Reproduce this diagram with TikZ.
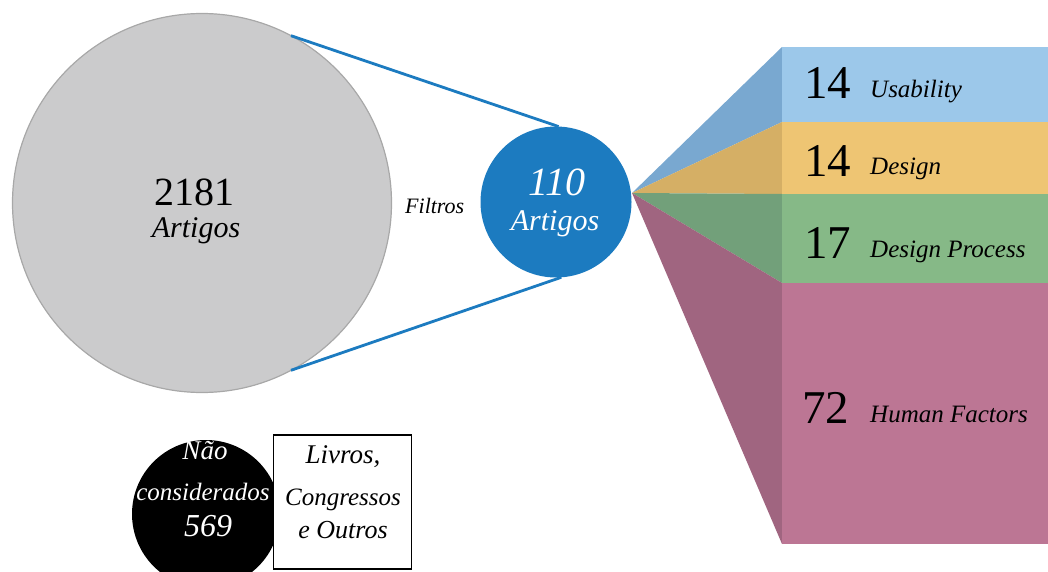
\documentclass[tikz,border=0pt]{standalone}
\usepackage{fontspec}
\setmainfont{Liberation Serif}
\newcommand\fsz[1]{\fontsize{#1}{#1}\selectfont}
\definecolor{greyfill}{HTML}{CBCBCC}
\definecolor{greyline}{HTML}{A8A8A8}
\definecolor{bluec}{HTML}{1C7BC0}
\definecolor{usaL}{HTML}{9CC8EA}
\definecolor{usaD}{HTML}{79A8D0}
\definecolor{desL}{HTML}{EEC573}
\definecolor{desD}{HTML}{D5AF65}
\definecolor{proL}{HTML}{86B987}
\definecolor{proD}{HTML}{72A07A}
\definecolor{humL}{HTML}{BC7694}
\definecolor{humD}{HTML}{A06580}
\tikzset{
  circ/.style={circle,inner sep=0pt,outer sep=0pt},
  numtxt/.style={anchor=base west,inner sep=0pt,font=\fsz{47}},
  cattxt/.style={anchor=base west,inner sep=0pt,font=\fsz{25}\itshape},
  ctr/.style={anchor=base,inner sep=0pt},
  filterline/.style={draw=bluec,line width=2.8pt}
}
\begin{document}
\begin{tikzpicture}[x=1pt,y=-1pt]
\useasboundingbox (0,0) rectangle (1048,572);
\clip (0,0) rectangle (1048,572);

% fan
\coordinate (apex) at (632,193);
\fill[usaD] (apex) -- (782,47) -- (782,122) -- cycle;
\fill[desD] (apex) -- (782,122) -- (782,194) -- cycle;
\fill[proD] (apex) -- (782,194) -- (782,283) -- cycle;
\fill[humD] (apex) -- (782,283) -- (782,544) -- cycle;
% bars
\fill[usaL] (782,47) rectangle (1048,122);
\fill[desL] (782,122) rectangle (1048,194);
\fill[proL] (782,194) rectangle (1048,283);
\fill[humL] (782,283) rectangle (1048,544);

\node[numtxt] (n1) at (804,99) {14};
\node[cattxt] (c1) at (870,98) {Usability};
\node[numtxt] (n2) at (804,176) {14};
\node[cattxt] (c2) at (870,175) {Design};
\node[numtxt] (n3) at (804,258) {17};
\node[cattxt] (c3) at (870,257) {Design Process};
\node[numtxt] (n4) at (802,423) {72};
\node[cattxt] (c4) at (870,422) {Human Factors};

% circles
\node[circ,fill=greyfill,draw=greyline,line width=1.2pt,minimum size=379pt] (big) at (202,203) {};
\node[circ,fill=bluec,minimum size=151pt] (blue) at (556,202) {};
\draw[filterline] (big.62.5) -- (blue.88);
\draw[filterline] (big.-62.5) -- (blue.-86);

\node[ctr,font=\fsz{40}] (t2181) at (194,205) {2181};
\node[ctr,font=\fsz{30}\itshape] (tart1) at (196,237) {Artigos};
\node[ctr,font=\fsz{40}\itshape,text=white] (t110) at (557,195) {110};
\node[ctr,font=\fsz{30}\itshape,text=white] (tart2) at (555,230) {Artigos};
\node[anchor=base west,inner sep=0pt,font=\fsz{22}\itshape] (filtros) at (405,213) {Filtros};

% bottom
\node[circ,fill=black,minimum size=148pt] (nc) at (206,514) {};
\node[draw=black,fill=white,line width=1.6pt,minimum width=138pt,minimum height=134pt,inner sep=0pt] (box) at (342.5,502) {};
\node[ctr,font=\fsz{27}\itshape,text=white] (nao) at (205,459) {Não};
\node[ctr,font=\fsz{25}\itshape,text=white] (cons) at (203,500) {considerados};
\node[ctr,font=\fsz{32}\itshape,text=white] (n569) at (208,536) {569};
\node[ctr,font=\fsz{27}\itshape] (liv) at (343,463) {Livros,};
\node[ctr,font=\fsz{25}\itshape] (cong) at (343,505) {Congressos};
\node[ctr,font=\fsz{26}\itshape] (outr) at (343,538) {e Outros};
\end{tikzpicture}
\end{document}
